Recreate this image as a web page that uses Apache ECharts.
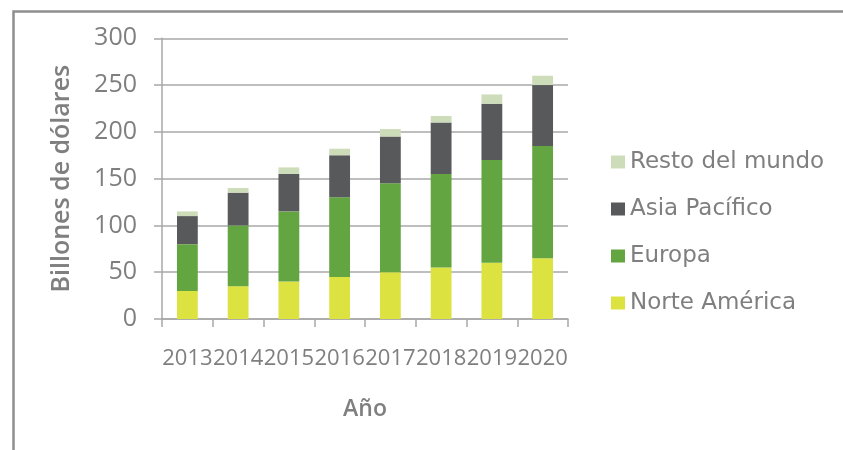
<!DOCTYPE html>
<html>
<head>
<meta charset="utf-8">
<script src="https://cdn.jsdelivr.net/npm/echarts@6/dist/echarts.min.js"></script>
<style>
  html, body { margin: 0; padding: 0; background: #fff; }
</style>
</head>
<body>
<div id="main" style="width: 843px;height: 450px;"></div>
<script>
// datos (billones de dólares)
var years = ['2013', '2014', '2015', '2016', '2017', '2018', '2019', '2020'];
var norteAmerica = [30, 35, 40, 45, 50, 55, 60, 65];
var europa = [50, 65, 75, 85, 95, 100, 110, 120];
var asiaPacifico = [30, 35, 40, 45, 50, 55, 60, 65];
var restoMundo = [5, 5, 7, 7, 8, 7, 10, 10];
var yTicks = [0, 50, 100, 150, 200, 250, 300];

var textGrey = '#7f7f7f';
var lineGrey = '#a8a8a8';

var myChart = echarts.init(document.getElementById('main'));

function barSeries(name, data, color) {
  return {
    name: name,
    type: 'bar',
    stack: 'Total',
    barWidth: '41%',
    itemStyle: { color: color },
    data: data
  };
}

var option = {
  animation: false,
  graphic: [
    {
      // marco del gráfico
      type: 'rect',
      left: 11,
      top: 9,
      shape: { width: 900, height: 500 },
      style: { fill: 'none', stroke: '#8e8e8e', lineWidth: 2.5 },
      silent: true
    }
  ],
  grid: {
    left: 162,
    right: 275,
    top: 38.3,
    bottom: 131
  },
  legend: {
    orient: 'vertical',
    left: 606,
    top: 145,
    itemWidth: 14,
    itemHeight: 13,
    itemGap: 23,
    icon: 'rect',
    data: ['Resto del mundo', 'Asia Pacífico', 'Europa', 'Norte América'],
    textStyle: {
      color: textGrey,
      fontFamily: 'DejaVu Sans',
      fontSize: 23,
      lineHeight: 24
    }
  },
  xAxis: {
    type: 'category',
    data: years,
    name: 'Año',
    nameLocation: 'middle',
    nameGap: 79,
    nameTextStyle: {
      color: textGrey,
      fontFamily: 'Open Sans',
      fontWeight: 600,
      fontSize: 23
    },
    axisLine: { lineStyle: { color: lineGrey, width: 1.5 } },
    axisTick: { show: true, length: 8, lineStyle: { color: lineGrey, width: 1.5 } },
    axisLabel: {
      interval: 0,
      margin: 29,
      color: textGrey,
      fontFamily: 'Open Sans',
      fontSize: 22
    }
  },
  yAxis: {
    type: 'value',
    min: yTicks[0],
    max: yTicks[yTicks.length - 1],
    interval: 50,
    name: 'Billones de dólares',
    nameLocation: 'middle',
    nameGap: 88,
    nameTextStyle: {
      color: textGrey,
      fontFamily: 'Open Sans',
      fontWeight: 600,
      fontSize: 25
    },
    axisLine: { show: true, lineStyle: { color: lineGrey, width: 1.5 } },
    axisTick: { show: true, length: 8, lineStyle: { color: lineGrey, width: 1.5 } },
    splitLine: { lineStyle: { color: lineGrey, width: 1.5 } },
    axisLabel: {
      margin: 25,
      color: textGrey,
      fontFamily: 'Open Sans',
      fontSize: 25
    }
  },
  series: [
    barSeries('Norte América', norteAmerica, '#dce340'),
    barSeries('Europa', europa, '#63a541'),
    barSeries('Asia Pacífico', asiaPacifico, '#58595b'),
    barSeries('Resto del mundo', restoMundo, '#cddcb9')
  ]
};

option && myChart.setOption(option);
</script>
</body>
</html>
